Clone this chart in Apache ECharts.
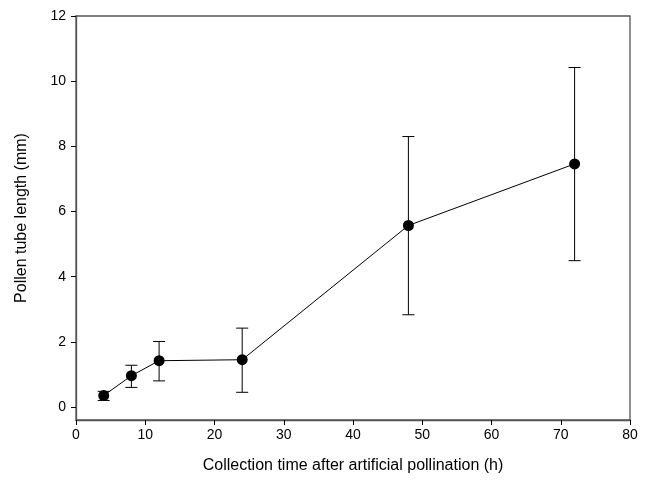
<!DOCTYPE html>
<html><head><meta charset="utf-8">
<script src="https://cdn.jsdelivr.net/npm/echarts@6/dist/echarts.min.js"></script>
<style>html,body{margin:0;padding:0;background:#fff}#c{width:649px;height:480px}</style>
</head><body><div id="c"></div>
<script>
var hours = [4, 8, 12, 24, 48, 72];
var meanLength = [0.35, 0.96, 1.42, 1.45, 5.57, 7.46];
var upperErr = [0.48, 1.28, 2.01, 2.42, 8.30, 10.42];
var lowerErr = [0.20, 0.60, 0.80, 0.45, 2.83, 4.49];
var yTicks = [0, 2, 4, 6, 8, 10, 12];

var font = 'Liberation Sans, Arial, sans-serif';
var chart = echarts.init(document.getElementById('c'));
var errData = hours.map(function (h, i) { return [h, lowerErr[i], upperErr[i]]; });
chart.setOption({
  animation: false,
  grid: { left: 76, right: 19, top: 16, bottom: 60, show: true, borderColor: '#555', borderWidth: 1.3 },
  xAxis: {
    type: 'value', min: 0, max: 80, interval: 10,
    name: 'Collection time after artificial pollination (h)', nameLocation: 'middle', nameGap: 38,
    nameTextStyle: { fontFamily: font, fontSize: 16, color: '#000' },
    axisLine: { onZero: false, lineStyle: { color: '#555', width: 1.3 } },
    axisTick: { length: 5, lineStyle: { color: '#000' } },
    axisLabel: { fontFamily: font, fontSize: 14, color: '#000', margin: 8 },
    splitLine: { show: false }
  },
  yAxis: {
    type: 'value', min: -0.4, max: 12,
    name: 'Pollen tube length (mm)', nameLocation: 'middle', nameGap: 46,
    nameTextStyle: { fontFamily: font, fontSize: 16, color: '#000' },
    axisLine: { show: true, onZero: false, lineStyle: { color: '#555', width: 1.3 } },
    axisTick: { show: true, length: 5, customValues: yTicks, lineStyle: { color: '#000' } },
    axisLabel: { fontFamily: font, fontSize: 14, color: '#000', margin: 10, customValues: yTicks },
    splitLine: { show: false }
  },
  series: [
    {
      type: 'custom',
      data: errData,
      z: 1,
      renderItem: function (params, api) {
        var x = api.value(0);
        var lo = api.coord([x, api.value(1)]);
        var hi = api.coord([x, api.value(2)]);
        var hw = 6;
        var st = { stroke: '#000', lineWidth: 1 };
        return { type: 'group', children: [
          { type: 'line', shape: { x1: lo[0], y1: lo[1], x2: hi[0], y2: hi[1] }, style: st },
          { type: 'line', shape: { x1: hi[0] - hw, y1: hi[1], x2: hi[0] + hw, y2: hi[1] }, style: st },
          { type: 'line', shape: { x1: lo[0] - hw, y1: lo[1], x2: lo[0] + hw, y2: lo[1] }, style: st }
        ] };
      }
    },
    {
      type: 'line',
      data: hours.map(function (h, i) { return [h, meanLength[i]]; }),
      symbol: 'circle', symbolSize: 11,
      itemStyle: { color: '#000' },
      lineStyle: { color: '#000', width: 1 },
      z: 3
    }
  ]
});
</script></body></html>
